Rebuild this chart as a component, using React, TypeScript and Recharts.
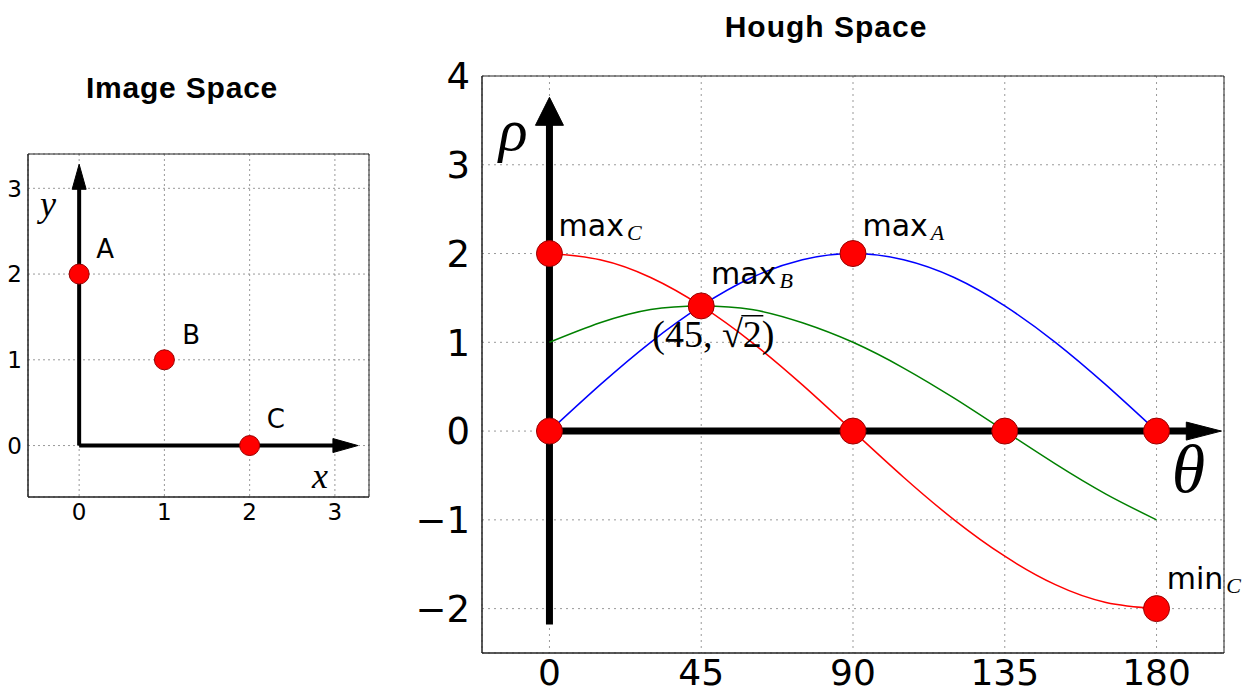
import React from 'react';
import { ComposedChart, XAxis, YAxis, CartesianGrid, Line, Scatter, ReferenceArea } from 'recharts';

// ---------- Image space ----------
const imgTicks = [0, 1, 2, 3];
const imgPoints = [
  { x: 0, y: 2 },
  { x: 1, y: 1 },
  { x: 2, y: 0 },
];
const imgPointLabels = [
  { x: 0.2, y: 2.19, text: 'A' },
  { x: 1.21, y: 1.19, text: 'B' },
  { x: 2.2, y: 0.2, text: 'C' },
];
const imgAxisLabels = [
  { x: -0.46, y: 2.68, text: 'y' },
  { x: 2.73, y: -0.49, text: 'x' },
];
const imgYShaft = [
  { x: 0, y: 0 },
  { x: 0, y: 3.0 },
];
const imgXShaft = [
  { x: 0, y: 0 },
  { x: 2.98, y: 0 },
];
const imgArrowTips = [
  { x: 0, y: 3.28, dir: 'up' },
  { x: 3.27, y: 0, dir: 'right' },
];

// ---------- Hough space ----------
const thetaTicks = [0, 45, 90, 135, 180];
const rhoTicks = [-2, -1, 0, 1, 2, 3, 4];
const thetaDeg = [0, 15, 30, 45, 60, 75, 90, 105, 120, 135, 150, 165, 180];
const rhoA = [0, 0.52, 1.0, 1.41, 1.73, 1.93, 2.0, 1.93, 1.73, 1.41, 1.0, 0.52, 0];
const rhoB = [1.0, 1.22, 1.37, 1.41, 1.37, 1.22, 1.0, 0.71, 0.37, 0, -0.37, -0.71, -1.0];
const rhoC = [2.0, 1.93, 1.73, 1.41, 1.0, 0.52, 0, -0.52, -1.0, -1.41, -1.73, -1.93, -2.0];
const houghData = thetaDeg.map((t, i) => ({ theta: t, a: rhoA[i], b: rhoB[i], c: rhoC[i] }));

const houghPoints = [
  { theta: 0, rho: 2 },
  { theta: 45, rho: 1.41 },
  { theta: 90, rho: 2 },
  { theta: 0, rho: 0 },
  { theta: 90, rho: 0 },
  { theta: 135, rho: 0 },
  { theta: 180, rho: 0 },
  { theta: 180, rho: -2 },
];
const houghSubLabels = [
  { theta: 2.7, rho: 2.2, main: 'max', sub: 'C' },
  { theta: 47.9, rho: 1.66, main: 'max', sub: 'B' },
  { theta: 92.8, rho: 2.2, main: 'max', sub: 'A' },
  { theta: 183, rho: -1.78, main: 'min', sub: 'C' },
];
const houghCoordLabel = [{ theta: 30.5, rho: 0.95 }];
const houghRhoLabel = [{ theta: -15, rho: 3.17, text: 'ρ' }];
const houghThetaLabel = [{ theta: 184.5, rho: -0.69, text: 'θ' }];
const houghYShaft = [
  { theta: 0, rho: -2.18 },
  { theta: 0, rho: 3.45 },
];
const houghXShaft = [
  { theta: 0, rho: 0 },
  { theta: 189, rho: 0 },
];
const houghArrowTips = [
  { theta: 0, rho: 3.76, dir: 'up' },
  { theta: 199.2, rho: 0, dir: 'right' },
];

const SANS = '"DejaVu Sans", "Liberation Sans", sans-serif';
const SERIF = '"Liberation Serif", "DejaVu Serif", serif';

const minusFmt = (v: number) => (v < 0 ? '\u2212' + Math.abs(v) : String(v));

const makeXTick = (size: number) => (p: any) => (
  <text x={p.x} y={p.y} dy="0.71em" textAnchor="middle" fontSize={size} fontFamily={SANS} fill="#000">
    {minusFmt(p.payload.value)}
  </text>
);
const makeYTick = (size: number) => (p: any) => (
  <text x={p.x} y={p.y} dy="0.36em" textAnchor="end" fontSize={size} fontFamily={SANS} fill="#000">
    {minusFmt(p.payload.value)}
  </text>
);

const makeArrow = (upL: number, upW: number, rL: number, rW: number) => (p: any) => {
  const { cx, cy, payload } = p;
  if (cx == null || cy == null) return <g />;
  const d =
    payload.dir === 'up'
      ? `M${cx},${cy} L${cx - upW},${cy + upL} L${cx + upW},${cy + upL} Z`
      : `M${cx},${cy} L${cx - rL},${cy - rW} L${cx - rL},${cy + rW} Z`;
  return <path d={d} fill="#000" stroke="#000" strokeWidth={1} />;
};

const makeDot = (r: number) => (p: any) => {
  const { cx, cy } = p;
  if (cx == null || cy == null) return <g />;
  return <circle cx={cx} cy={cy} r={r} fill="#ff0000" stroke="#9a0000" strokeWidth={1} />;
};

const makeText = (size: number, family: string, italic: boolean) => (p: any) => {
  const { cx, cy, payload } = p;
  if (cx == null || cy == null) return <g />;
  return (
    <text x={cx} y={cy} fontSize={size} fontFamily={family} fontStyle={italic ? 'italic' : 'normal'} fill="#000">
      {payload.text}
    </text>
  );
};

const SubLabel = (p: any) => {
  const { cx, cy, payload } = p;
  if (cx == null || cy == null) return <g />;
  return (
    <text x={cx} y={cy} fontSize={30} fontFamily={SANS} fill="#000">
      {payload.main}
      <tspan dx={3} dy={4} fontSize={22} fontFamily={SERIF} fontStyle="italic">
        {payload.sub}
      </tspan>
    </text>
  );
};

const CoordLabel = (p: any) => {
  const { cx, cy } = p;
  if (cx == null || cy == null) return <g />;
  return (
    <g>
      <text x={cx} y={cy} fontSize={38} fontFamily={SERIF} fill="#000">
        (45, √2)
      </text>
      <line x1={cx + 89} y1={cy - 31} x2={cx + 111} y2={cy - 31} stroke="#000" strokeWidth={1.5} />
    </g>
  );
};

export default function App() {
  return (
    <div style={{ position: 'absolute', left: 0, top: 0, width: 1252, height: 693, background: '#fff' }}>
      <svg width={1252} height={693} style={{ position: 'absolute', left: 0, top: 0 }}>
        <text x={182} y={98} textAnchor="middle" fontSize={30} fontWeight="bold" letterSpacing={0.8}
          fontFamily='"Liberation Sans", Arial, sans-serif' fill="#000">Image Space</text>
        <text x={826} y={37} textAnchor="middle" fontSize={30} fontWeight="bold" letterSpacing={1}
          fontFamily='"Liberation Sans", Arial, sans-serif' fill="#000">Hough Space</text>
      </svg>

      {/* Image space */}
      <div style={{ position: 'absolute', left: 0, top: 0 }}>
        <ComposedChart width={400} height={560} margin={{ top: 154, right: 31, bottom: 30, left: 0 }}>
          <CartesianGrid stroke="#999" strokeDasharray="2 3" />
          <XAxis type="number" dataKey="x" domain={[-0.6, 3.4]} ticks={imgTicks}
            height={33} tickLine={false} tickMargin={1} axisLine={{ stroke: '#222' }}
            tick={makeXTick(23)} />
          <YAxis type="number" dataKey="y" domain={[-0.6, 3.4]} ticks={imgTicks}
            width={28} tickLine={false} tickMargin={0} axisLine={{ stroke: '#222' }}
            tick={makeYTick(23)} />
          <ReferenceArea x1={-0.6} x2={3.4} y1={-0.6} y2={3.4} fill="none" fillOpacity={0} stroke="#222" strokeWidth={1} />
          <Line data={imgYShaft} dataKey="y" type="linear" stroke="#000" strokeWidth={4} dot={false} isAnimationActive={false} />
          <Line data={imgXShaft} dataKey="y" type="linear" stroke="#000" strokeWidth={4} dot={false} isAnimationActive={false} />
          <Scatter data={imgArrowTips} dataKey="y" shape={makeArrow(25, 7, 25, 7)} isAnimationActive={false} />
          <Scatter data={imgPoints} dataKey="y" shape={makeDot(10)} isAnimationActive={false} />
          <Scatter data={imgPointLabels} dataKey="y" shape={makeText(26, SANS, false)} isAnimationActive={false} />
          <Scatter data={imgAxisLabels} dataKey="y" shape={makeText(36, SERIF, true)} isAnimationActive={false} />
        </ComposedChart>
      </div>

      {/* Hough space */}
      <div style={{ position: 'absolute', left: 400, top: 0 }}>
        <ComposedChart width={852} height={693} data={houghData} margin={{ top: 76, right: 28, bottom: 0, left: 0 }}>
          <CartesianGrid stroke="#999" strokeDasharray="2 4" />
          <XAxis type="number" dataKey="theta" domain={[-20, 200]} ticks={thetaTicks}
            height={40} tickLine={false} tickMargin={0} axisLine={{ stroke: '#222' }}
            tick={makeXTick(36)} />
          <YAxis type="number" domain={[-2.5, 4]} ticks={rhoTicks}
            width={82} tickLine={false} tickMargin={6} axisLine={{ stroke: '#222' }}
            tick={makeYTick(37)} />
          <ReferenceArea x1={-20} x2={200} y1={-2.5} y2={4} fill="none" fillOpacity={0} stroke="#222" strokeWidth={1} />
          <Line data={houghYShaft} dataKey="rho" type="linear" stroke="#000" strokeWidth={7} dot={false} isAnimationActive={false} />
          <Line data={houghXShaft} dataKey="rho" type="linear" stroke="#000" strokeWidth={7} dot={false} isAnimationActive={false} />
          <Line dataKey="a" type="natural" stroke="#0000ff" strokeWidth={1.5} dot={false} isAnimationActive={false} />
          <Line dataKey="b" type="natural" stroke="#008000" strokeWidth={1.5} dot={false} isAnimationActive={false} />
          <Line dataKey="c" type="natural" stroke="#ff0000" strokeWidth={1.5} dot={false} isAnimationActive={false} />
          <Scatter data={houghArrowTips} dataKey="rho" shape={makeArrow(28, 14, 35, 9)} isAnimationActive={false} />
          <Scatter data={houghPoints} dataKey="rho" shape={makeDot(13)} isAnimationActive={false} />
          <Scatter data={houghSubLabels} dataKey="rho" shape={SubLabel} isAnimationActive={false} />
          <Scatter data={houghCoordLabel} dataKey="rho" shape={CoordLabel} isAnimationActive={false} />
          <Scatter data={houghRhoLabel} dataKey="rho" shape={makeText(60, SERIF, true)} isAnimationActive={false} />
          <Scatter data={houghThetaLabel} dataKey="rho" shape={makeText(68, SERIF, true)} isAnimationActive={false} />
        </ComposedChart>
      </div>
    </div>
  );
}
